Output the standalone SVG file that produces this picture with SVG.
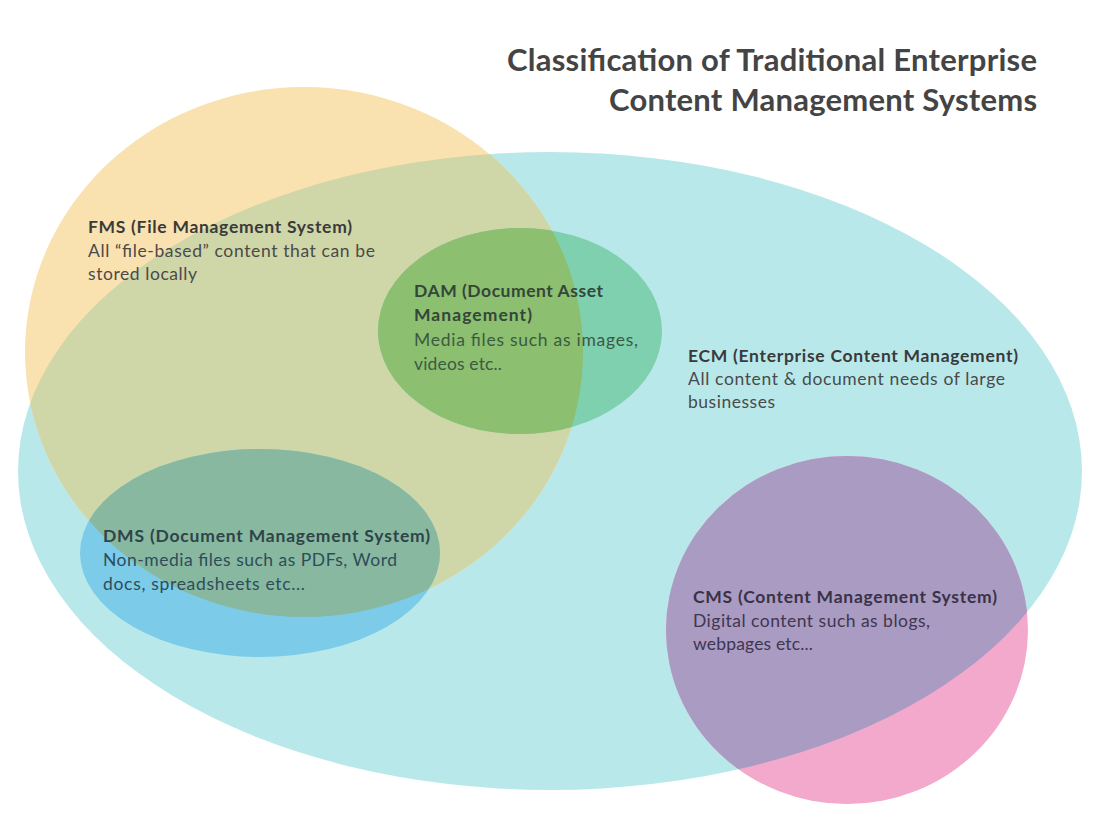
<svg xmlns="http://www.w3.org/2000/svg" width="1099" height="824" viewBox="0 0 1099 824">
<style>
.title{font-family:Lato,"Liberation Sans",sans-serif;font-weight:bold;font-size:31px;fill:#444444;text-anchor:end}
.h{font-family:Lato,"Liberation Sans",sans-serif;font-weight:bold;font-size:17.5px;fill:#3a3a3a}
.t{font-family:Lato,"Liberation Sans",sans-serif;font-size:17.5px;fill:#4a4a4a}
</style>
<defs>
<clipPath id="clipECM"><ellipse cx="550" cy="471" rx="532" ry="319"/></clipPath>
<clipPath id="clipFMS"><ellipse cx="304" cy="352" rx="279" ry="265"/></clipPath>
</defs>
<rect width="1099" height="824" fill="#ffffff"/>
<g id="title">
<text class="title" x="1037" y="71" textLength="530">Classification of Traditional Enterprise</text>
<text class="title" x="1037" y="111" textLength="428">Content Management Systems</text>
</g>
<g id="ECM">
<ellipse cx="550" cy="471" rx="532" ry="319" fill="#b9e8eb"/>
<text class="h" x="688" y="362" textLength="330">ECM (Enterprise Content Management)</text>
<text class="t" x="688" y="385" textLength="317">All content &amp; document needs of large</text>
<text class="t" x="688" y="408" textLength="87">businesses</text>
</g>
<g id="FMS">
<ellipse cx="304" cy="352" rx="279" ry="265" fill="#fae2b0"/>
<ellipse cx="304" cy="352" rx="279" ry="265" fill="#cfd6a8" clip-path="url(#clipECM)"/>
<text class="h" x="88" y="233" textLength="264">FMS (File Management System)</text>
<text class="t" x="88" y="257" textLength="287">All “file-based” content that can be</text>
<text class="t" x="88" y="280" textLength="109">stored locally</text>
</g>
<g id="DAM">
<ellipse cx="520" cy="331" rx="142" ry="103" fill="#7fd0ae"/>
<ellipse cx="520" cy="331" rx="142" ry="103" fill="#8cbf6f" clip-path="url(#clipFMS)"/>
<text class="h" x="414" y="297" textLength="189" style="fill:#34463a">DAM (Document Asset</text>
<text class="h" x="414" y="321" textLength="118" style="fill:#34463a">Management)</text>
<text class="t" x="414" y="346" textLength="224" style="fill:#3b5a44">Media files such as images,</text>
<text class="t" x="414" y="370" textLength="88" style="fill:#3b5a44">videos etc..</text>
</g>
<g id="DMS">
<ellipse cx="260" cy="553" rx="180" ry="104" fill="#7ccbe8"/>
<ellipse cx="260" cy="553" rx="180" ry="104" fill="#88b8a0" clip-path="url(#clipFMS)"/>
<text class="h" x="103" y="542" textLength="327" style="fill:#2f4448">DMS (Document Management System)</text>
<text class="t" x="103" y="566" textLength="294" style="fill:#2e4d5a">Non-media files such as PDFs, Word</text>
<text class="t" x="103" y="590" textLength="202" style="fill:#2e4d5a">docs, spreadsheets etc...</text>
</g>
<g id="CMS">
<ellipse cx="847" cy="630" rx="181" ry="174" fill="#f2a9cc"/>
<ellipse cx="847" cy="630" rx="181" ry="174" fill="#a99bc2" clip-path="url(#clipECM)"/>
<text class="h" x="693" y="603" textLength="304" style="fill:#3a3246">CMS (Content Management System)</text>
<text class="t" x="693" y="627" textLength="237" style="fill:#3f3650">Digital content such as blogs,</text>
<text class="t" x="693" y="650" textLength="120" style="fill:#3f3650">webpages etc...</text>
</g>
<g id="connectors"></g>
</svg>
